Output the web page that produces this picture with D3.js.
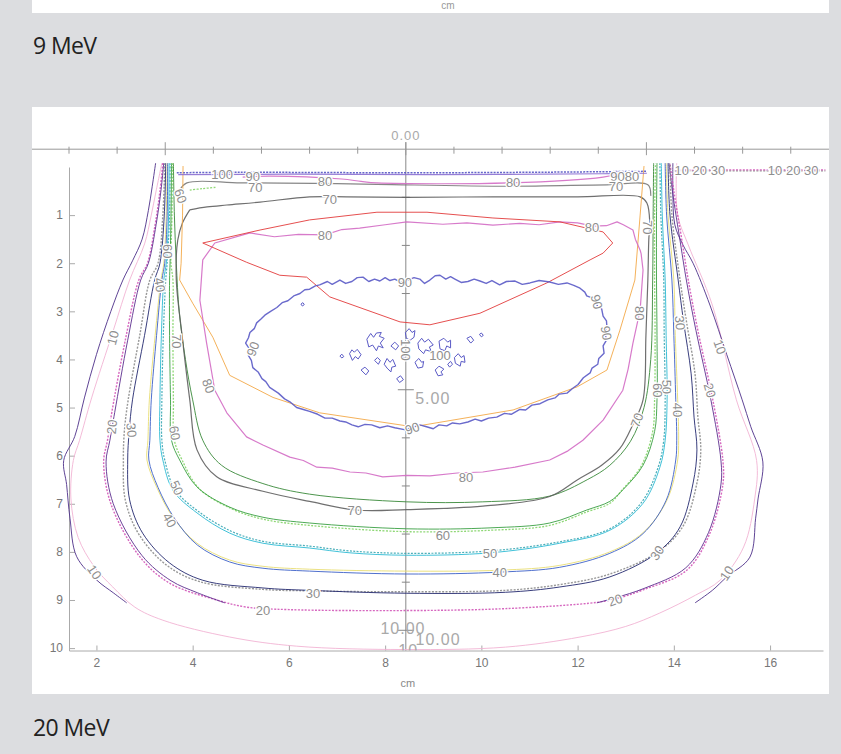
<!DOCTYPE html>
<html>
<head>
<meta charset="utf-8">
<script src="https://cdn.jsdelivr.net/npm/d3@7"></script>
<style>
body { margin: 0; background: #dcdde0; }
</style>
</head>
<body>
<div id="chart-area"></div>
<script>
// isodose plot, 20 MeV electron field (cm, x = lateral, y = depth)

const xTicks = [2, 4, 6, 8, 10, 12, 14, 16]
const yTicks = [1, 2, 3, 4, 5, 6, 7, 8, 9, 10]
const rulerOrigin = [8.43, -0.37]
const rulerLabels = [["0.00", 0, -0.28], ["5.00", 0.56, 5.17], ["10.00", -0.06, 9.95], ["10.00", 0.67, 10.18], ["10", 0.05, 10.42]]

// 10 %
const iso10Light = [[3.36,-0.08],[3.24,0.5],[3.14,1.0],[3.0,1.6],[2.69,2.35],[2.35,3.4],[1.9,4.8],[1.65,5.68],[1.52,6.1],[1.47,6.9],[1.62,7.7],[1.95,8.3],[2.34,8.73],[2.8,9.15],[3.38,9.42],[4.77,9.77],[6.16,9.96],[8.4,10.03],[10.5,9.98],[12.05,9.77],[13.0,9.55],[13.71,9.27],[14.45,8.9],[14.96,8.59],[15.45,7.9],[15.68,6.9],[15.72,6.1],[15.3,4.84],[14.8,2.87],[14.3,1.62],[14.08,1.0],[14.06,-0.08]]
const iso10Dark = [[3.23,-0.08],[3.16,0.4],[3.08,0.9],[2.95,1.5],[2.75,1.95],[2.55,2.35],[2.3,3.0],[2.0,3.9],[1.75,4.8],[1.55,5.6],[1.32,6.1],[1.38,6.6],[1.45,7.3],[1.59,8.1],[2.01,8.59],[2.35,8.85],[2.63,9.06],
  null,
  [14.44,9.06],[14.8,8.8],[15.1,8.52],[15.58,8.11],[15.7,7.3],[15.75,6.9],[15.85,6.13],[15.6,5.4],[15.42,4.84],[15.1,3.9],[14.75,2.87],[14.4,2.0],[14.19,1.62],[14.02,1.2],[13.98,0.5],[13.98,-0.08]]
// 20 %
const iso20Dot = [[3.38,-0.08],[3.32,0.5],[3.22,1.2],[3.06,2.0],[2.88,2.35],[2.6,3.6],[2.32,5.1],[2.23,5.68],[2.15,6.13],[2.3,7.0],[2.9,8.1],[3.52,8.65],[4.5,9.0],[5.13,9.15],[6.0,9.2],[8.4,9.22],[10.5,9.18],[12.4,9.05],[12.78,8.98],[13.36,8.79],[14.27,8.38],[14.75,7.61],[15.02,6.59],[15.02,6.11],[14.81,4.84],[14.5,3.4],[14.3,2.35],[14.18,1.6],[14.0,0.5],[13.92,-0.08]]
const iso20Solid = [[3.4,-0.08],[3.34,0.5],[3.24,1.2],[3.08,2.0],[2.92,2.35],[2.65,3.6],[2.38,5.1],[2.28,5.68],[2.2,6.13],[2.35,7.0],[2.95,8.08],[3.55,8.6],[4.1,8.85],[4.67,9.06],
  null,
  [12.4,9.06],[12.8,8.95],[13.38,8.76],[14.25,8.33],[14.72,7.6],[14.98,6.59],[14.98,6.11],[14.77,4.84],[14.46,3.4],[14.26,2.35],[14.14,1.6],[13.97,0.5],[13.9,-0.08]]
// 30 %
const iso30Dot = [[3.42,-0.08],[3.38,1.0],[3.28,2.0],[3.11,2.35],[2.9,3.5],[2.66,4.84],[2.58,5.5],[2.56,6.09],[2.6,6.92],[2.88,7.63],[3.45,8.27],[4.15,8.62],[5.46,8.78],[6.43,8.81],[8.45,8.83],[10.5,8.8],[11.63,8.68],[12.67,8.46],[13.7,7.98],[14.2,7.45],[14.48,6.57],[14.56,5.88],[14.5,5.2],[14.44,4.3],[14.26,3.2],[14.13,2.35],[13.96,1.0],[13.92,-0.08]]
const iso30Solid = [[3.44,-0.08],[3.41,1.0],[3.32,2.0],[3.21,2.35],[3.0,3.5],[2.75,4.84],[2.68,5.5],[2.65,6.09],[2.69,6.92],[2.96,7.61],[3.52,8.23],[4.21,8.59],[5.46,8.75],[6.43,8.8],[8.45,8.86],[10.5,8.84],[11.63,8.73],[12.67,8.52],[13.65,8.02],[14.13,7.48],[14.4,6.57],[14.48,5.88],[14.42,5.2],[14.36,4.3],[14.2,3.2],[14.09,2.35],[13.92,1.0],[13.88,-0.08]]
// 40 %
const iso40Yellow = [[3.47,-0.08],[3.45,1.0],[3.4,2.0],[3.34,2.35],[3.22,3.5],[3.1,4.84],[3.07,5.68],[3.05,6.09],[3.25,6.65],[3.59,7.28],[4.09,7.82],[4.77,8.17],[5.46,8.3],[6.43,8.36],[8.45,8.4],[10.4,8.38],[11.63,8.28],[12.67,8.0],[13.36,7.6],[13.86,6.92],[14.08,6.09],[14.1,5.68],[14.08,4.84],[14.03,3.5],[14.0,2.35],[13.88,1.0],[13.84,-0.08]]
const iso40Blue = [[3.48,-0.08],[3.47,1.0],[3.42,2.0],[3.36,2.35],[3.25,3.5],[3.14,4.84],[3.11,5.68],[3.09,6.09],[3.28,6.66],[3.62,7.3],[4.1,7.86],[4.77,8.21],[5.46,8.34],[6.43,8.4],[8.45,8.46],[10.4,8.42],[11.63,8.32],[12.67,8.03],[13.36,7.62],[13.84,6.93],[14.04,6.09],[14.06,5.68],[14.04,4.84],[14.0,3.5],[13.96,2.35],[13.85,1.0],[13.82,-0.08]]
// 50 %
const iso50Dot = [[3.53,-0.08],[3.52,1.0],[3.47,2.0],[3.44,2.35],[3.39,3.5],[3.36,4.84],[3.36,5.68],[3.42,6.09],[3.63,6.7],[4.12,7.16],[4.8,7.57],[5.46,7.78],[6.43,7.88],[7.27,7.98],[8.45,8.03],[10.18,7.98],[11.63,7.79],[12.67,7.52],[13.33,6.97],[13.68,6.22],[13.79,5.68],[13.82,4.84],[13.8,3.5],[13.79,2.35],[13.73,1.0],[13.71,-0.08]]
const iso50Cyan = [[3.51,-0.08],[3.5,1.0],[3.45,2.0],[3.4,2.35],[3.35,3.5],[3.32,4.84],[3.32,5.68],[3.38,6.09],[3.59,6.72],[4.09,7.19],[4.77,7.61],[5.46,7.82],[6.43,7.92],[7.27,8.02],[8.45,8.07],[10.18,8.02],[11.63,7.82],[12.67,7.55],[13.36,6.99],[13.71,6.24],[13.82,5.68],[13.86,4.84],[13.84,3.5],[13.82,2.35],[13.76,1.0],[13.74,-0.08]]
// 60 %
const iso60Dot = [[3.58,-0.08],[3.57,1.0],[3.55,2.0],[3.59,2.35],[3.59,3.5],[3.6,4.84],[3.62,5.68],[3.78,6.09],[4.13,6.68],[4.8,7.1],[5.46,7.32],[6.43,7.45],[8.45,7.58],[10.2,7.55],[11.42,7.45],[12.19,7.17],[12.67,6.99],[12.92,6.72],[13.32,6.22],[13.56,5.5],[13.6,4.84],[13.61,3.5],[13.6,2.35],[13.6,1.0],[13.62,-0.08]]
const iso60Green = [[3.56,-0.08],[3.55,1.0],[3.53,2.0],[3.52,2.35],[3.52,3.5],[3.54,4.84],[3.56,5.68],[3.73,6.09],[4.09,6.65],[4.77,7.07],[5.46,7.28],[6.43,7.4],[8.45,7.52],[10.2,7.5],[11.42,7.4],[12.19,7.13],[12.67,6.95],[12.95,6.7],[13.36,6.2],[13.6,5.5],[13.65,4.84],[13.65,3.5],[13.64,2.35],[13.64,1.0],[13.65,-0.08]]
const iso60Seg = [[3.94,0.48],[4.2,0.45],[4.5,0.42]]
// 70 %
const iso70Green = [[3.6,-0.08],[3.62,1.0],[3.66,2.0],[3.72,3.0],[3.85,4.0],[4.0,4.84],[4.21,5.68],[4.6,6.2],[5.46,6.58],[6.43,6.8],[8.45,6.96],[10.03,6.96],[11.42,6.84],[12.2,6.5],[12.67,6.2],[13.1,5.7],[13.38,5.0],[13.52,4.0],[13.56,2.35],[13.57,1.0],[13.58,-0.08]]
const iso70Gray = [[3.94,0.89],[4.3,0.83],[4.71,0.79],[5.4,0.73],[6.43,0.62],[7.2,0.62],[8.45,0.63],[10.24,0.62],[12.0,0.62],[13.3,0.62],[13.44,0.75],[13.5,1.16],[13.48,1.5],[13.46,2.35],[13.42,3.5],[13.36,4.84],[13.15,5.35],[12.88,5.85],[12.5,6.2],[12.0,6.5],[11.42,6.85],[10.03,7.05],[8.45,7.12],[7.4,7.13],[6.43,6.95],[5.46,6.74],[4.5,6.44],[4.09,5.88],[3.94,4.84],[3.78,3.5],[3.66,2.35],[3.69,1.52],[3.79,1.16],[3.94,0.89]]
const iso70Upper = [[3.72,0.5],[3.88,0.33],[5.0,0.33],[6.5,0.34],[7.83,0.36],[10.59,0.4],[12.61,0.37],[13.46,0.37],[13.52,0.6]]
// 80 %
const iso80Orange = [[3.8,-0.02],[3.79,1.0],[3.76,2.0],[3.73,2.35],[4.0,2.83],[4.42,3.54],[4.77,4.33],[5.67,4.79],[6.64,5.11],[8.58,5.4],[10.66,5.05],[11.99,4.57],[12.61,4.22],[12.88,3.39],[13.19,2.35],[13.3,1.0],[13.38,-0.02]]
const iso80Magenta = [[5.19,1.37],[4.46,1.58],[4.21,1.93],[4.15,2.77],[4.29,3.66],[4.46,4.64],[4.71,5.11],[5.12,5.61],[5.46,5.78],[6.02,6.03],[6.3,6.1],[6.58,6.24],[6.9,6.26],[7.27,6.34],[7.6,6.36],[7.95,6.44],[8.45,6.41],[8.93,6.42],[9.5,6.36],[10.03,6.34],[10.7,6.24],[11.42,6.09],[11.8,5.9],[12.11,5.68],[12.53,5.26],[12.94,4.64],[13.05,4.2],[13.15,3.66],[13.3,2.97],[13.36,2.14],[13.32,1.8],[13.3,1.73],[13.2,1.5],[13.15,1.31],[12.95,1.2],[12.82,1.14],[12.6,1.22],[12.32,1.23],[12.0,1.16],[11.63,1.14],[11.2,1.2],[10.8,1.17],[10.24,1.21],[9.7,1.16],[9.2,1.19],[8.45,1.14],[8.0,1.2],[7.47,1.27],[7.1,1.3],[6.75,1.41],[6.2,1.4],[5.7,1.45],[5.19,1.37]]
const iso80Red = [[4.21,1.58],[5.4,1.31],[6.43,1.1],[7.83,0.94],[8.87,0.94],[10.24,1.06],[11.63,1.14],[12.53,1.35],[12.73,1.58],[12.53,1.79],[12.26,1.93],[11.36,2.41],[9.97,3.04],[8.93,3.28],[8.31,3.22],[6.85,2.7],[6.37,2.29],[5.81,2.25],[5.12,1.98],[4.21,1.58]]
const iso80Top = [[5.04,0.21],[5.6,0.19],[7.1,0.25],[7.5,0.3],[7.83,0.33],[10.59,0.33],[12.53,0.21],[12.94,0.12]]
// 90 / 100 %
const iso90Top = [[3.67,0.12],[5.0,0.11],[8.4,0.12],[11.0,0.11],[13.44,0.09]]
const iso100Top = [[3.7,0.16],[6.0,0.15],[9.0,0.16],[12.5,0.14],[13.44,0.13]]
const iso90 = [[6.64,2.45],[6.8,2.38],[6.9,2.44],[7.06,2.35],[7.18,2.42],[7.31,2.38],[7.42,2.3],[7.54,2.29],[7.66,2.38],[7.78,2.33],[7.89,2.37],[8.0,2.3],[8.1,2.36],[8.2,2.33],[8.33,2.4],[8.45,2.36],[8.6,2.3],[8.72,2.33],[8.82,2.42],[8.93,2.35],[9.04,2.26],[9.14,2.25],[9.26,2.33],[9.36,2.28],[9.45,2.33],[9.58,2.4],[9.72,2.38],[9.85,2.33],[9.97,2.37],[10.1,2.42],[10.22,2.36],[10.38,2.45],[10.52,2.38],[10.7,2.37],[10.85,2.44],[11.01,2.41],[11.2,2.36],[11.42,2.39],[11.6,2.44],[11.78,2.41],[11.92,2.46],[12.05,2.52],[12.15,2.6],[12.19,2.68],[12.3,2.72],[12.36,2.8],[12.42,2.9],[12.5,2.95],[12.53,3.1],[12.6,3.2],[12.61,3.33],[12.57,3.45],[12.6,3.6],[12.53,3.72],[12.55,3.87],[12.44,3.98],[12.42,4.1],[12.3,4.18],[12.26,4.28],[12.12,4.38],[12.01,4.52],[11.9,4.6],[11.78,4.7],[11.62,4.72],[11.53,4.8],[11.38,4.84],[11.22,4.92],[11.05,4.95],[10.92,5.05],[10.8,5.04],[10.62,5.14],[10.48,5.12],[10.32,5.2],[10.15,5.22],[10.0,5.28],[9.87,5.24],[9.72,5.3],[9.55,5.34],[9.4,5.32],[9.28,5.38],[9.12,5.36],[9.0,5.44],[8.86,5.4],[8.72,5.36],[8.55,5.42],[8.4,5.46],[8.2,5.42],[8.05,5.38],[7.89,5.42],[7.72,5.36],[7.58,5.35],[7.44,5.4],[7.31,5.36],[7.18,5.3],[7.06,5.28],[6.9,5.22],[6.75,5.22],[6.6,5.14],[6.43,5.08],[6.3,5.04],[6.16,5.0],[6.02,4.88],[5.91,4.82],[5.78,4.7],[5.6,4.58],[5.52,4.46],[5.44,4.4],[5.36,4.26],[5.25,4.17],[5.22,4.02],[5.16,3.92],[5.18,3.78],[5.1,3.66],[5.16,3.55],[5.19,3.44],[5.28,3.36],[5.33,3.24],[5.42,3.16],[5.5,3.08],[5.62,3.0],[5.75,2.92],[5.86,2.82],[5.98,2.78],[6.1,2.68],[6.23,2.63],[6.33,2.55],[6.43,2.54],[6.55,2.47],[6.64,2.45]]
const iso100Islands = [
  [[7.26,3.88],[7.31,3.8],[7.36,3.85],[7.42,3.79],[7.5,3.9],[7.44,3.99],[7.38,3.94],[7.32,4.02],[7.26,3.88]],
  [[7.62,3.58],[7.7,3.46],[7.76,3.54],[7.82,3.45],[7.92,3.44],[7.88,3.52],[7.98,3.56],[7.9,3.66],[7.96,3.76],[7.86,3.72],[7.82,3.82],[7.74,3.7],[7.66,3.74],[7.62,3.58]],
  [[7.98,4.1],[8.04,3.98],[8.1,4.06],[8.16,4.0],[8.22,4.14],[8.14,4.16],[8.12,4.26],[8.04,4.18],[7.98,4.1]],
  [[8.42,3.44],[8.5,3.36],[8.56,3.44],[8.62,3.4],[8.6,3.54],[8.52,3.6],[8.44,3.56],[8.42,3.44]],
  [[8.68,3.66],[8.76,3.56],[8.82,3.64],[8.9,3.58],[9.0,3.7],[8.92,3.74],[8.96,3.84],[8.84,3.8],[8.8,3.88],[8.7,3.78],[8.68,3.66]],
  [[9.12,3.62],[9.22,3.56],[9.3,3.64],[9.36,3.6],[9.36,3.76],[9.28,3.72],[9.24,3.82],[9.14,3.78],[9.12,3.62]],
  [[9.44,3.96],[9.52,3.88],[9.58,3.96],[9.64,3.92],[9.66,4.06],[9.58,4.04],[9.56,4.14],[9.46,4.08],[9.44,3.96]],
  [[9.7,3.56],[9.78,3.52],[9.84,3.6],[9.78,3.66],[9.7,3.56]],
  [[7.5,4.22],[7.58,4.16],[7.66,4.24],[7.6,4.32],[7.5,4.22]],
  [[8.24,4.4],[8.32,4.34],[8.38,4.42],[8.3,4.48],[8.24,4.4]],
  [[9.04,4.22],[9.12,4.14],[9.22,4.2],[9.16,4.26],[9.2,4.32],[9.1,4.34],[9.04,4.22]],
  [[8.12,3.72],[8.2,3.64],[8.28,3.72],[8.22,3.8],[8.12,3.72]],
  [[7.06,3.93],[7.1,3.89],[7.14,3.94],[7.1,3.97],[7.06,3.93]],
  [[9.96,3.48],[10.0,3.45],[10.04,3.5],[10.0,3.53],[9.96,3.48]],
  [[8.62,4.06],[8.7,3.98],[8.76,4.06],[8.8,4.04],[8.78,4.16],[8.68,4.18],[8.62,4.06]],
  [[8.36,3.9],[8.44,3.84],[8.5,3.94],[8.42,4.02],[8.36,3.9]],
  [[7.78,4.02],[7.84,3.96],[7.9,4.02],[7.86,4.1],[7.78,4.02]],
  [[9.3,4.1],[9.36,4.04],[9.4,4.1],[9.34,4.16],[9.3,4.1]],
  [[6.25,2.85],[6.29,2.82],[6.32,2.86],[6.28,2.89],[6.25,2.85]]
]
// surface lines outside the field, right
const isoSurfPink = [[14.02,0.06],[17.15,0.06]]
const isoSurfGray = [[14.02,0.08],[17.15,0.08]]

const contourLabels = [
  ["100", 4.61, 0.15, 0], ["90", 5.25, 0.19, 0], ["80", 6.75, 0.3, 0], ["70", 5.3, 0.42, 0],
  ["70", 6.85, 0.67, 0], ["9080", 12.98, 0.2, 0], ["70", 12.8, 0.41, 0], ["80", 10.66, 0.32, 0],
  ["80", 6.75, 1.43, 0], ["80", 12.3, 1.26, 0], ["70", 13.46, 1.25, 90],
  ["90", 8.41, 2.39, 0], ["90", 12.4, 2.8, 75], ["90", 12.6, 3.45, 80], ["90", 5.25, 3.78, -70],
  ["100", 8.43, 3.8, 90], ["100", 9.14, 3.91, 0], ["90", 8.56, 5.43, -20],
  ["80", 4.33, 4.55, 70], ["80", 13.3, 3.04, 90], ["80", 9.68, 6.44, 0],
  ["70", 7.37, 7.13, 0], ["70", 13.23, 5.26, -70],
  ["60", 9.2, 7.65, 0], ["50", 10.18, 8.02, 0], ["40", 10.38, 8.42, 0], ["30", 6.5, 8.86, 0],
  ["20", 5.46, 9.21, 0], ["20", 12.78, 9.0, -20], ["30", 13.65, 8.02, -55],
  ["10", 1.96, 8.42, 55], ["10", 15.1, 8.44, -55], ["10", 2.34, 3.55, -75], ["10", 14.96, 3.74, 70],
  ["20", 14.75, 4.64, 75], ["30", 14.13, 3.24, 85], ["40", 14.09, 5.05, 90], ["50", 13.86, 4.57, 90],
  ["60", 13.67, 4.64, 90], ["60", 3.75, 0.6, 70], ["60", 3.48, 1.75, 90], ["40", 3.32, 2.45, 80],
  ["70", 3.67, 3.62, 90], ["20", 2.32, 5.4, -85], ["30", 2.73, 5.47, 85], ["60", 3.63, 5.53, 80],
  ["50", 3.67, 6.67, 65], ["40", 3.52, 7.34, 60],
  ["10 20 30", 14.54, 0.06, 0], ["10 20 30", 16.48, 0.06, 0]
]

const W = 841, H = 754
const svg = d3.select("#chart-area").append("svg")
    .attr("width", W)
    .attr("height", H)
    .style("font-family", "'Liberation Sans', Arial, sans-serif")

svg.append("rect").attr("width", W).attr("height", H).attr("fill", "#dcdde0")

// bottom of the previous (9 MeV) panel
svg.append("rect").attr("x", 32).attr("y", 0).attr("width", 797).attr("height", 13).attr("fill", "#fff")
svg.append("text").attr("x", 448).attr("y", 9).attr("text-anchor", "middle")
    .attr("font-size", "10px").attr("fill", "#999").text("cm")

const titleFont = "'Open Sans', 'Noto Sans', sans-serif"
svg.append("text").attr("x", 33).attr("y", 54).attr("font-family", titleFont)
    .attr("font-size", "23px").attr("fill", "#222").attr("letter-spacing", "-0.6").text("9 MeV")
svg.append("text").attr("x", 33).attr("y", 736).attr("font-family", titleFont)
    .attr("font-size", "23px").attr("fill", "#222").attr("letter-spacing", "-0.6").text("20 MeV")

svg.append("rect").attr("x", 32).attr("y", 107).attr("width", 797).attr("height", 587).attr("fill", "#fff")

const x = d3.scaleLinear().domain([1.43, 17.1]).range([69, 823])
const y = d3.scaleLinear().domain([0, 10.05]).range([167, 650.5])

const g = svg.append("g")

// axes
const xAxis = g.append("g")
    .attr("transform", `translate(0, ${y(10.05)})`)
    .call(d3.axisBottom(x).tickValues(xTicks).tickSizeInner(-5).tickSizeOuter(0).tickPadding(8))
const yAxis = g.append("g")
    .attr("transform", `translate(${x(1.43)}, 0)`)
    .call(d3.axisLeft(y).tickValues(yTicks).tickSizeInner(-6).tickSizeOuter(0).tickPadding(6))
;[xAxis, yAxis].forEach(a => {
    a.selectAll("path, line").attr("stroke", "#aaa")
    a.selectAll("text").attr("fill", "#777").attr("font-size", "12px").attr("font-family", "'Liberation Sans', Arial, sans-serif")
})
g.append("text").attr("x", x(8.43) + 2).attr("y", 687).attr("text-anchor", "middle")
    .attr("font-size", "11px").attr("fill", "#888").text("cm")

// ruler through the beam axis
const rx = k => x(rulerOrigin[0] + k)
const ry = k => y(rulerOrigin[1] + k)
g.append("line").attr("x1", 32).attr("x2", 829).attr("y1", ry(0)).attr("y2", ry(0)).attr("stroke", "#999")
g.append("line").attr("x1", rx(0)).attr("x2", rx(0)).attr("y1", ry(0) - 7).attr("y2", y(10.05)).attr("stroke", "#888")
d3.range(-7, 9).forEach(k => {
    const long = k % 5 === 0
    g.append("line").attr("x1", rx(k)).attr("x2", rx(k))
        .attr("y1", ry(0) - (long ? 7 : 2.5)).attr("y2", ry(0) + (long ? 6 : 4.5)).attr("stroke", "#999")
})
d3.range(1, 11).forEach(k => {
    const w = k % 5 === 0 ? 8 : 4
    g.append("line").attr("x1", rx(0) - w).attr("x2", rx(0) + w)
        .attr("y1", ry(k)).attr("y2", ry(k)).attr("stroke", "#888")
})

// contours
const line = d3.line().defined(d => d !== null).x(d => x(d[0])).y(d => y(d[1]))
const smooth = d3.curveCatmullRom.alpha(0.5)
const contours = [
    {d: iso10Light, c: "#f2b4d4"},
    {d: iso10Dark, c: "#4e3089"},
    {d: iso20Dot, c: "#d257b8", dash: "2,1.4", w: 1.4},
    {d: iso20Solid, c: "#5d2f8f"},
    {d: iso30Dot, c: "#8d8d8d", dash: "2,1.4", w: 1.4},
    {d: iso30Solid, c: "#23296f"},
    {d: iso40Yellow, c: "#e9de74"},
    {d: iso40Blue, c: "#3d60c8"},
    {d: iso50Dot, c: "#38a6b2", dash: "2,1.4", w: 1.2},
    {d: iso50Cyan, c: "#2cbad4"},
    {d: iso60Dot, c: "#84d468", dash: "2,1.4", w: 1.3},
    {d: iso60Green, c: "#3aa043"},
    {d: iso60Seg, c: "#84d468", dash: "2,1.4", w: 1.3},
    {d: iso70Green, c: "#3a8a3a"},
    {d: iso70Gray, c: "#5f5f5f", w: 1.2},
    {d: iso70Upper, c: "#7a7a7a", w: 1.2},
    {d: iso80Orange, c: "#f3a848", curve: d3.curveLinear},
    {d: iso80Magenta, c: "#d36cc4", w: 1.2, curve: d3.curveLinear},
    {d: iso80Red, c: "#e23c3c", curve: d3.curveLinear},
    {d: iso80Top, c: "#d36cc4", w: 1.2},
    {d: iso100Top, c: "#8b6fd2", w: 1.2},
    {d: iso90Top, c: "#5555c4", dash: "2,1.2", w: 1.5},
    {d: isoSurfGray, c: "#8d8d8d", dash: "2,1.4", w: 1.4, curve: d3.curveLinear},
    {d: isoSurfPink, c: "#d257b8", dash: "2,1.4", w: 1.4, curve: d3.curveLinear},
    {d: iso90, c: "#5a5ac6", w: 1.4, curve: d3.curveLinear}
]
contours.forEach(s => {
    g.append("path")
        .attr("d", line.curve(s.curve || smooth)(s.d))
        .attr("fill", "none")
        .attr("stroke", s.c)
        .attr("stroke-opacity", 0.9)
        .attr("stroke-width", s.w || 1)
        .attr("stroke-dasharray", s.dash || null)
        .attr("stroke-linejoin", "round")
})
g.selectAll(".island").data(iso100Islands).enter().append("path")
    .attr("class", "island")
    .attr("d", d => line.curve(d3.curveLinear)(d))
    .attr("fill", "none")
    .attr("stroke", "#5a5ac6")
    .attr("stroke-width", 1)

// contour labels
g.selectAll(".clabel").data(contourLabels).enter().append("text")
    .attr("class", "clabel")
    .attr("transform", d => `translate(${x(d[1])},${y(d[2])}) rotate(${d[3]})`)
    .attr("text-anchor", "middle")
    .attr("dy", "0.36em")
    .attr("font-size", "13px")
    .attr("fill", "#8e8e8e")
    .attr("stroke", "#fff")
    .attr("stroke-width", 2.5)
    .attr("paint-order", "stroke")
    .text(d => d[0])

// ruler labels
svg.append("clipPath").attr("id", "plotclip").append("rect")
    .attr("x", 32).attr("y", 107).attr("width", 797).attr("height", y(10.05) - 107)
g.append("g").attr("clip-path", "url(#plotclip)")
    .selectAll("text").data(rulerLabels).enter().append("text")
    .attr("x", d => rx(d[1]))
    .attr("y", d => ry(d[2]))
    .attr("dy", "0.36em")
    .attr("text-anchor", "middle")
    .attr("font-size", d => d[0] === "0.00" ? "13px" : "16px")
    .attr("letter-spacing", "1")
    .attr("fill", "#a9a9a9")
    .text(d => d[0])
</script>
</body>
</html>
